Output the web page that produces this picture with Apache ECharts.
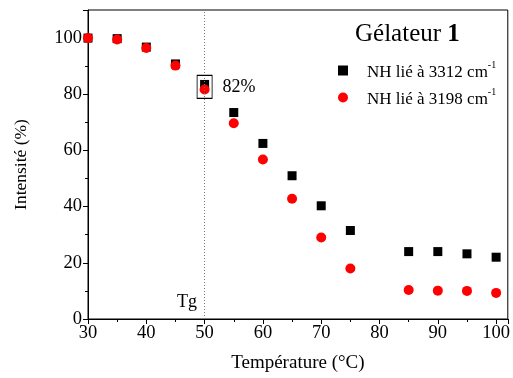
<!DOCTYPE html>
<html>
<head>
<meta charset="utf-8">
<script src="https://cdn.jsdelivr.net/npm/echarts@6/dist/echarts.min.js"></script>
<style>
html,body{margin:0;padding:0;background:#fff}
#chart{width:513px;height:378px}
</style>
</head>
<body>
<div id="chart"></div>
<script>
// temperatures (°C)
var temps = [30, 35, 40, 45, 50, 55, 60, 65, 70, 75, 85, 90, 95, 100];
// NH lié à 3312 cm-1
var nh3312 = [100, 99.8, 96.8, 90.8, 83.5, 73.5, 62.5, 51, 40.3, 31.5, 24, 24, 23.2, 22];
// NH lié à 3198 cm-1
var nh3198 = [100, 99.5, 96.5, 90.2, 81.7, 69.7, 56.8, 42.8, 29, 18, 10.3, 10.1, 10, 9.3];
var tg = 50;
var tgPct = 82;

var FONT = '"Liberation Serif", "DejaVu Serif", serif';

function pairs(xs, ys) {
  return xs.map(function (x, i) { return [x, ys[i]]; });
}

var chart = echarts.init(document.getElementById('chart'));

chart.setOption({
  animation: false,
  backgroundColor: '#fff',
  textStyle: { fontFamily: FONT, color: '#000' },
  title: {
    text: '{n|Gélateur }{b|1}',
    left: 355,
    top: 22,
    padding: 0,
    textStyle: {
      fontWeight: 'normal',
      rich: {
        n: { fontFamily: FONT, fontSize: 25, fontWeight: 'normal', color: '#000' },
        b: { fontFamily: FONT, fontSize: 25, fontWeight: 'bold', color: '#000' }
      }
    }
  },
  legend: {
    orient: 'vertical',
    left: 338,
    top: 60,
    padding: 0,
    itemGap: 6,
    itemWidth: 10,
    itemHeight: 10,
    data: [
      { name: 'NH lié à 3312', icon: 'rect', itemStyle: { color: '#000' } },
      { name: 'NH lié à 3198', icon: 'circle', itemStyle: { color: '#ff0000' } }
    ],
    formatter: function (n) { return '{t|' + n + ' cm}{s|-1}'; },
    textStyle: {
      rich: {
        t: { fontFamily: FONT, fontSize: 17, color: '#000', padding: [4, 0, 0, 14] },
        s: { fontFamily: FONT, fontSize: 10, color: '#000', verticalAlign: 'top', padding: [0, 0, 6, 0] }
      }
    }
  },
  grid: {
    left: 88, right: 5, top: 10, bottom: 58,
    show: true, borderColor: '#000', borderWidth: 1
  },
  xAxis: {
    type: 'value',
    min: 30, max: 102, interval: 10,
    name: 'Température (°C)',
    nameLocation: 'middle',
    nameGap: 35,
    nameTextStyle: { fontFamily: FONT, fontSize: 19, color: '#000' },
    axisLine: { lineStyle: { color: '#000' } },
    axisTick: { inside: false, length: 5, lineStyle: { color: '#000' } },
    minorTick: { show: true, splitNumber: 2, length: 3, lineStyle: { color: '#000' } },
    splitLine: { show: false },
    axisLabel: {
      fontFamily: FONT, fontSize: 18.5, color: '#000', margin: 5,
      formatter: function (v) { return v % 10 === 0 ? v : ''; }
    }
  },
  yAxis: {
    type: 'value',
    min: 0, max: 110, interval: 20,
    name: 'Intensité (%)',
    nameLocation: 'middle',
    nameGap: 58,
    nameTextStyle: { fontFamily: FONT, fontSize: 17.5, color: '#000' },
    axisLine: { show: true, lineStyle: { color: '#000' } },
    axisTick: { show: true, inside: false, length: 5, lineStyle: { color: '#000' } },
    minorTick: { show: true, splitNumber: 2, length: 3, lineStyle: { color: '#000' } },
    splitLine: { show: false },
    axisLabel: {
      fontFamily: FONT, fontSize: 18.5, color: '#000', margin: 6,
      formatter: function (v) { return v % 20 === 0 && v <= 100 ? v : ''; }
    }
  },
  series: [
    {
      name: 'NH lié à 3312',
      type: 'scatter',
      symbol: 'rect',
      symbolSize: 9,
      itemStyle: { color: '#000', opacity: 1 },
      data: pairs(temps, nh3312),
      z: 2,
      markLine: {
        silent: true,
        symbol: 'none',
        label: { show: false },
        lineStyle: { color: '#777', type: [1, 2], width: 1 },
        data: [{ xAxis: tg }]
      },
      markPoint: {
        silent: true,
        data: [
          {
            coord: [tg, tgPct + 0.6],
            symbol: 'rect',
            symbolSize: [15, 23],
            itemStyle: { color: 'rgba(0,0,0,0)', borderColor: '#000', borderWidth: 1 },
            label: {
              show: true, position: 'right', distance: 10,
              formatter: tgPct + '%',
              fontFamily: FONT, fontSize: 18, color: '#000'
            }
          },
          {
            coord: [tg - 3, 5.9],
            symbol: 'rect',
            symbolSize: [20, 20],
            itemStyle: { color: 'rgba(0,0,0,0)' },
            label: {
              show: true, position: 'inside',
              formatter: 'Tg',
              fontFamily: FONT, fontSize: 18, color: '#000'
            }
          }
        ]
      }
    },
    {
      name: 'NH lié à 3198',
      type: 'scatter',
      symbol: 'circle',
      symbolSize: 10,
      itemStyle: { color: '#ff0000', opacity: 1 },
      data: pairs(temps, nh3198),
      z: 3
    }
  ]
});
</script>
</body>
</html>
